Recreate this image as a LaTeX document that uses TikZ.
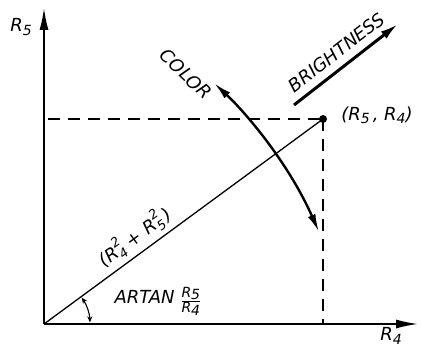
\documentclass[tikz,border=0pt]{standalone}
\usepackage{amsmath}
\usepackage{fontspec}
\setmainfont{DejaVu Sans}
\usetikzlibrary{arrows.meta,positioning,calc}

\newcommand{\lowsub}[1]{\raisebox{-0.35ex}{\fontsize{14}{15}\selectfont #1}}
\newcommand{\subsup}[2]{\makebox[0pt][l]{\raisebox{-0.45ex}{\fontsize{13}{14}\selectfont #1}}\raisebox{1.0ex}{\fontsize{13}{14}\selectfont #2}}

\begin{document}
\begin{tikzpicture}[
    x=1pt, y=-1pt,
    axis/.style={line width=1.6pt, -{Latex[length=22pt,width=9pt]}},
    guide/.style={line width=1.3pt, dash pattern=on 12pt off 8pt},
    vec/.style={line width=1.3pt},
    lbl/.style={font=\fontsize{18}{21}\selectfont\itshape, inner sep=2pt},
    bigarrow/.style={line width=3pt, -{Latex[length=18pt,width=9pt]}},
    swing/.style={line width=2.4pt, {Latex[length=18pt,width=8pt]}-{Latex[length=18pt,width=8pt]}},
    angarrow/.style={line width=1.1pt, {Stealth[length=6pt,width=5pt]}-{Stealth[length=6pt,width=5pt]}}
]
    \useasboundingbox (0,0) rectangle (422,350);

    % Draw nodes
    \coordinate (origin) at (44,324);
    \coordinate (ytop) at (44,8);
    \coordinate (xend) at (418,324);
    \coordinate (yproj) at (48,119);
    \coordinate (xproj) at (323,324);
    \node (pt) [circle, fill, inner sep=0pt, minimum size=8pt] at (323,119) {};
    \node (ptlabel) [lbl] at (377,115) {(R\lowsub{5}\,, R\lowsub{4})};
    \node (r5) [lbl] at (21,27) {R\lowsub{5}};
    \node (r4) [lbl] at (391,336) {R\lowsub{4}};
    \node (artan) [lbl] at (158,301) {ARTAN \raisebox{-0.1ex}{\fontsize{14}{15}\selectfont$\genfrac{}{}{0.8pt}{}{\hbox{R\lowsub{5}}}{\hbox{R\lowsub{4}}}$}};
    \node (color) [lbl, rotate=-44] at (186,74) {COLOR};

    \coordinate (c0) at (214,83);
    \coordinate (c1) at (319,232);
    \coordinate (b0) at (294,105);
    \coordinate (b1) at (398,24);
    \coordinate (a0) at ($(origin)+(-35:46)$);

    % Draw connections
    \draw [axis] (origin) -- (ytop);
    \draw [axis] (origin) -- (xend);
    \draw [guide] (yproj) -- (pt.center);
    \draw [guide] (pt.center) -- (xproj);
    \draw [vec] (origin) -- node[lbl, sloped, above, pos=0.36, inner sep=4pt] {(R\subsup{4}{2} + R\subsup{5}{2}\,)} (pt.center);
    \draw [swing] (c0) .. controls (245,112) and (288,162) .. (c1);
    \draw [bigarrow] (b0) -- node[lbl, sloped, above, inner sep=7pt] {BRIGHTNESS} (b1);
    \draw [angarrow] (a0) arc[start angle=-35, end angle=-2, radius=46];

\end{tikzpicture}
\end{document}
